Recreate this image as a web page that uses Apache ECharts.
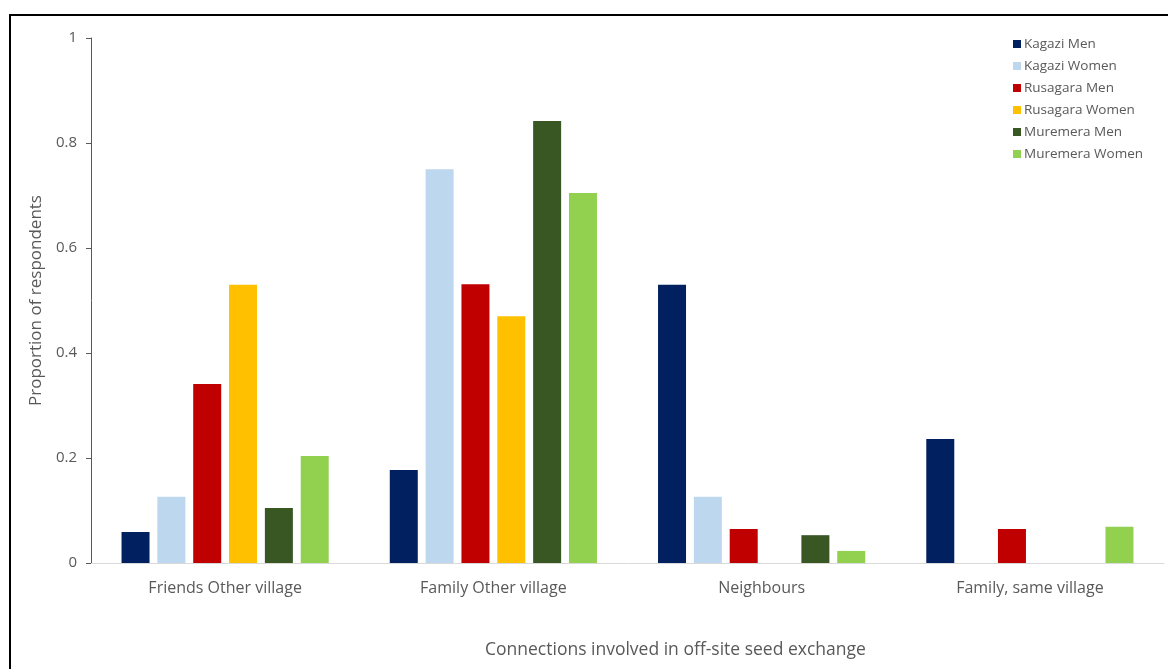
<!DOCTYPE html>
<html>
<head>
<meta charset="utf-8">
<script src="https://cdn.jsdelivr.net/npm/echarts@6/dist/echarts.min.js"></script>
<style>
html,body{margin:0;padding:0;background:#fff;}
#c{width:1168px;height:669px;}
</style>
</head>
<body>
<div id="c"></div>
<script>
const categories = ['Friends Other village', 'Family Other village', 'Neighbours', 'Family, same village'];
const seriesNames = ['Kagazi Men', 'Kagazi Women', 'Rusagara Men', 'Rusagara Women', 'Muremera Men', 'Muremera Women'];
const kagaziMen = [0.059, 0.177, 0.530, 0.236];
const kagaziWomen = [0.126, 0.750, 0.126, 0];
const rusagaraMen = [0.341, 0.531, 0.065, 0.065];
const rusagaraWomen = [0.530, 0.470, 0, 0];
const muremeraMen = [0.105, 0.842, 0.053, 0];
const muremeraWomen = [0.204, 0.705, 0.023, 0.069];
const colors = ['#002060', '#BDD7EE', '#C00000', '#FFC000', '#385723', '#92D050'];
const yTicks = [0, 0.2, 0.4, 0.6, 0.8, 1];

const allData = [kagaziMen, kagaziWomen, rusagaraMen, rusagaraWomen, muremeraMen, muremeraWomen];
const font = '"Open Sans", "Noto Sans", sans-serif';

const chart = echarts.init(document.getElementById('c'), null, {renderer: 'canvas'});
chart.setOption({
  animation: false,
  textStyle: {fontFamily: font},
  grid: {left: 91, right: 4, top: 38, bottom: 106, containLabel: false},
  legend: {
    orient: 'vertical',
    left: 1008,
    top: 32,
    itemWidth: 8,
    itemHeight: 8,
    itemGap: 8,
    icon: 'rect',
    textStyle: {color: '#595959', fontSize: 13.5, fontFamily: font, padding: [0, 0, 0, -2]},
    data: seriesNames
  },
  xAxis: {
    type: 'category',
    data: categories,
    axisLine: {lineStyle: {color: '#d9d9d9', width: 1}},
    axisTick: {show: false},
    axisLabel: {color: '#595959', fontSize: 16, margin: 17, fontFamily: font}
  },
  yAxis: {
    type: 'value',
    min: 0, max: 1, interval: 0.2,
    name: 'Proportion of respondents',
    nameLocation: 'middle',
    nameGap: 46,
    nameTextStyle: {color: '#595959', fontSize: 17, fontFamily: font},
    axisLine: {show: true, lineStyle: {color: '#595959', width: 1}},
    axisTick: {show: true, length: 5, lineStyle: {color: '#595959'}},
    splitLine: {show: false},
    axisLabel: {
      color: '#595959', fontSize: 15, margin: 14, fontFamily: font,
      formatter: v => String(parseFloat(v.toFixed(1)))
    }
  },
  graphic: [
    {type: 'line', shape: {x1: 10, y1: 15, x2: 10, y2: 669}, style: {stroke: '#000', lineWidth: 2}},
    {type: 'line', shape: {x1: 9, y1: 15, x2: 1168, y2: 15}, style: {stroke: '#000', lineWidth: 2}},
    {type: 'text', left: 485, top: 641, style: {text: 'Connections involved in off-site seed exchange', fill: '#595959', font: '17.5px ' + font}}
  ],
  series: seriesNames.map((n, i) => ({
    name: n,
    type: 'bar',
    data: allData[i],
    barWidth: 28,
    barGap: '28%',
    itemStyle: {color: colors[i]}
  }))
});
</script>
</body>
</html>
